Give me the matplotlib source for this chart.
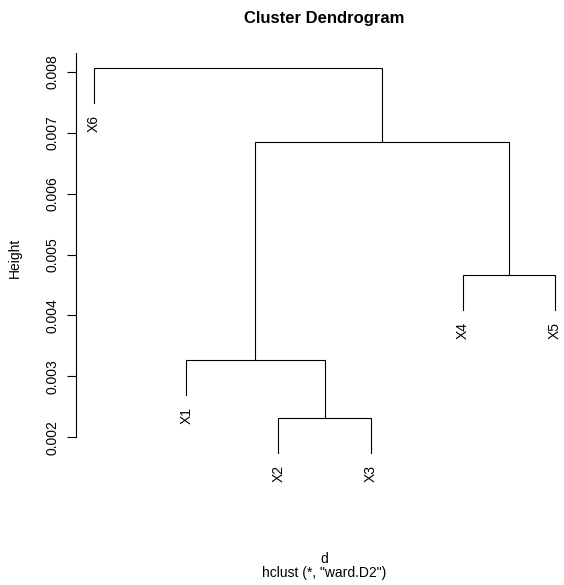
import matplotlib
matplotlib.use("Agg")
import matplotlib.pyplot as plt

plt.rcParams['font.family'] = ['Liberation Sans', 'DejaVu Sans']

# Leaf labels in plotting order (left to right)
leaf_order = ["X6", "X1", "X2", "X3", "X4", "X5"]
# Merges (child_a, child_b) - leaves by name, clusters by merge index
merges = [("X2", "X3"), ("X4", "X5"), ("X1", 0), (2, 1), ("X6", 3)]
merge_heights = [0.00232, 0.00467, 0.00326, 0.00685, 0.00806]
ytick_values = [0.002, 0.003, 0.004, 0.005, 0.006, 0.007, 0.008]
ytick_labels = ["0.002", "0.003", "0.004", "0.005", "0.006", "0.007", "0.008"]

W, H = 564, 585
fig = plt.figure(figsize=(W / 100, H / 100), dpi=100)

# plot region (pixels)
left_px, right_px, top_px, bot_px = 75.6, 573.6, 53, 468
ax = fig.add_axes([left_px / W, (H - bot_px) / H,
                   (right_px - left_px) / W, (bot_px - top_px) / H])

hang = 0.1 * (max(merge_heights) - min(merge_heights))
leaf_x = {name: i + 1 for i, name in enumerate(leaf_order)}
node_x = []


def info(c):
    if isinstance(c, str):
        return leaf_x[c], merge_heights_leaf(c)
    return node_x[c], merge_heights[c]


leaf_end = {}


def merge_heights_leaf(name):
    return leaf_end[name]


# compute leaf end heights: parent height minus hang
for i, (a, b) in enumerate(merges):
    for c in (a, b):
        if isinstance(c, str):
            leaf_end[c] = merge_heights[i] - hang

lw = 0.8
for i, (a, b) in enumerate(merges):
    h = merge_heights[i]
    xa, ya = info(a)
    xb, yb = info(b)
    ax.plot([xa, xa, xb, xb], [ya, h, h, yb], color='black', lw=lw,
            solid_joinstyle='miter', clip_on=False)
    node_x.append((xa + xb) / 2)

for name in leaf_order:
    ax.annotate(name, xy=(leaf_x[name], leaf_end[name]), xytext=(0, -8.6),
                textcoords='offset points', rotation=90, ha='center', va='top',
                fontsize=10)

ymin = min(leaf_end.values())
ymax = max(merge_heights)
pad = 0.04 * (ymax - ymin)
ax.set_ylim(ymin - pad, ymax + pad)
n = len(leaf_order)
ax.set_xlim(1 - 0.04 * (n - 1), n + 0.04 * (n - 1))

for s in ('top', 'right', 'bottom'):
    ax.spines[s].set_visible(False)
ax.spines['left'].set_bounds(ytick_values[0], ymax + pad)
ax.spines['left'].set_linewidth(lw)
ax.set_xticks([])
ax.set_yticks(ytick_values)
ax.set_yticklabels(ytick_labels, rotation=90, va='center', fontsize=10)
ax.tick_params(axis='y', length=6.5, width=lw, pad=5)
ax.patch.set_visible(False)

fig.text(15 / W, 1 - 258 / H, "Height", rotation=90, ha='center', va='center', fontsize=10)
fig.text(324 / W, 1 - 22.7 / H, "Cluster Dendrogram", ha='center', va='baseline',
         fontsize=12, fontweight='bold')
fig.text(324 / W, 1 - 563 / H, "d", ha='center', va='baseline', fontsize=10)
fig.text(324 / W, 1 - 577 / H, 'hclust (*, "ward.D2")', ha='center', va='baseline', fontsize=10)

fig.savefig("out.png", dpi=100)
